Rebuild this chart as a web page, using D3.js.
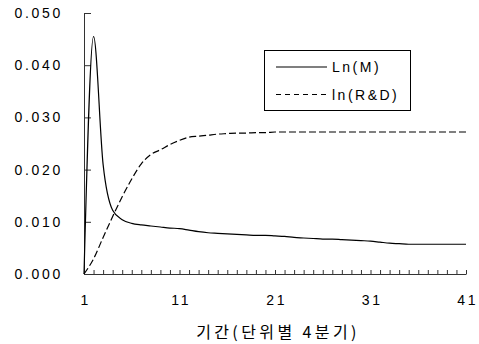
<!DOCTYPE html>
<html>
<head>
<meta charset="utf-8">
<script src="https://cdn.jsdelivr.net/npm/d3@7"></script>
<style>
  body { margin: 0; background: #fff; }
  text { font-family: "Liberation Sans", Arial, sans-serif; }
</style>
</head>
<body>
<svg id="svg"></svg>
<script>
// data, one value per quarter
const periods = d3.range(1, 42);
const lnM = [0, 0.0455, 0.0210, 0.0122, 0.0104, 0.0097, 0.0094, 0.0092, 0.0090, 0.0088,
  0.0087, 0.0084, 0.0081, 0.0079, 0.0078, 0.0077, 0.0076, 0.0075, 0.0074, 0.0074,
  0.0073, 0.0072, 0.0070, 0.0069, 0.0068, 0.0067, 0.0067, 0.0066, 0.0065, 0.0064,
  0.0063, 0.0061, 0.0059, 0.0058, 0.0057, 0.0057, 0.0057, 0.0057, 0.0057, 0.0057, 0.0057];
const lnRD = [0, 0.0029, 0.0070, 0.0110, 0.0148, 0.0182, 0.0211, 0.0229, 0.0238, 0.0248,
  0.0256, 0.0262, 0.0264, 0.0266, 0.0268, 0.0269, 0.0270, 0.0270, 0.0271, 0.0271,
  0.0272, 0.0272, 0.0272, 0.0272, 0.0272, 0.0272, 0.0272, 0.0272, 0.0272, 0.0272,
  0.0272, 0.0272, 0.0272, 0.0272, 0.0272, 0.0272, 0.0272, 0.0272, 0.0272, 0.0272, 0.0272];
const seriesNames = ['Ln(M)', 'ln(R&D)'];
const yTicks = [0, 0.01, 0.02, 0.03, 0.04, 0.05];
const xLabels = [1, 11, 21, 31, 41];
const xTitle = '기간(단위별 4분기)';

const width = 479, height = 344;
const margin = { top: 13, right: 13, bottom: 70, left: 84 };

const svg = d3.select('#svg').attr('width', width).attr('height', height);

// SCALES
const xScale = d3.scaleLinear().domain([1, 41]).range([margin.left, width - margin.right]);
const yScale = d3.scaleLinear().domain([0, 0.05]).range([height - margin.bottom, margin.top]);

// Y AXIS (ticks point inward)
svg.append('g')
  .attr('transform', `translate(${margin.left},0)`)
  .call(d3.axisLeft(yScale).tickValues(yTicks).tickFormat(d3.format('.3f'))
    .tickSizeInner(-7).tickSizeOuter(0).tickPadding(21))
  .call(g => g.select('.domain').attr('stroke', '#333'))
  .call(g => g.selectAll('line').attr('stroke', '#333'))
  .selectAll('text')
  .attr('font-size', 14)
  .attr('letter-spacing', 2.7)
  .attr('fill', '#000');

// X AXIS (a tick every quarter, labels every 10)
svg.append('g')
  .attr('transform', `translate(0,${yScale(0)})`)
  .call(d3.axisBottom(xScale).tickValues(periods)
    .tickFormat(d => xLabels.includes(d) ? d : '')
    .tickSizeInner(-4).tickSizeOuter(0).tickPadding(21))
  .call(g => g.select('.domain').attr('stroke', '#333'))
  .call(g => g.selectAll('line').attr('stroke', '#333'))
  .selectAll('text')
  .attr('font-size', 14)
  .attr('letter-spacing', 2.7)
  .attr('dx', 1.3)
  .attr('fill', '#000');

// X AXIS LABEL
svg.append('text')
  .attr('x', 278)
  .attr('y', 338)
  .attr('text-anchor', 'middle')
  .attr('font-size', 16)
  .attr('letter-spacing', 3.4)
  .style('font-family', '"Noto Sans CJK KR", sans-serif')
  .text(xTitle);

// LINES
const line = d3.line()
  .x((d, i) => xScale(periods[i]))
  .y(d => yScale(d))
  .curve(d3.curveMonotoneX);

svg.append('path')
  .attr('d', line(lnM))
  .attr('fill', 'none')
  .attr('stroke', '#000')
  .attr('stroke-width', 1.2);

svg.append('path')
  .attr('d', line(lnRD))
  .attr('fill', 'none')
  .attr('stroke', '#000')
  .attr('stroke-width', 1.2)
  .attr('stroke-dasharray', '7,3');

// LEGEND
const legend = svg.append('g');
legend.append('rect')
  .attr('x', 264.5).attr('y', 50.5)
  .attr('width', 146).attr('height', 60)
  .attr('fill', '#fff').attr('stroke', '#000');

seriesNames.forEach((name, i) => {
  const ly = 67 + i * 27.5;
  legend.append('line')
    .attr('x1', 276).attr('x2', 327)
    .attr('y1', ly).attr('y2', ly)
    .attr('stroke', '#000').attr('stroke-width', 1.2)
    .attr('stroke-dasharray', i === 1 ? '5,4' : null);
  legend.append('text')
    .attr('x', 332).attr('y', ly + 5)
    .attr('font-size', 14)
    .attr('letter-spacing', 2.5)
    .text(name);
});
</script>
</body>
</html>
